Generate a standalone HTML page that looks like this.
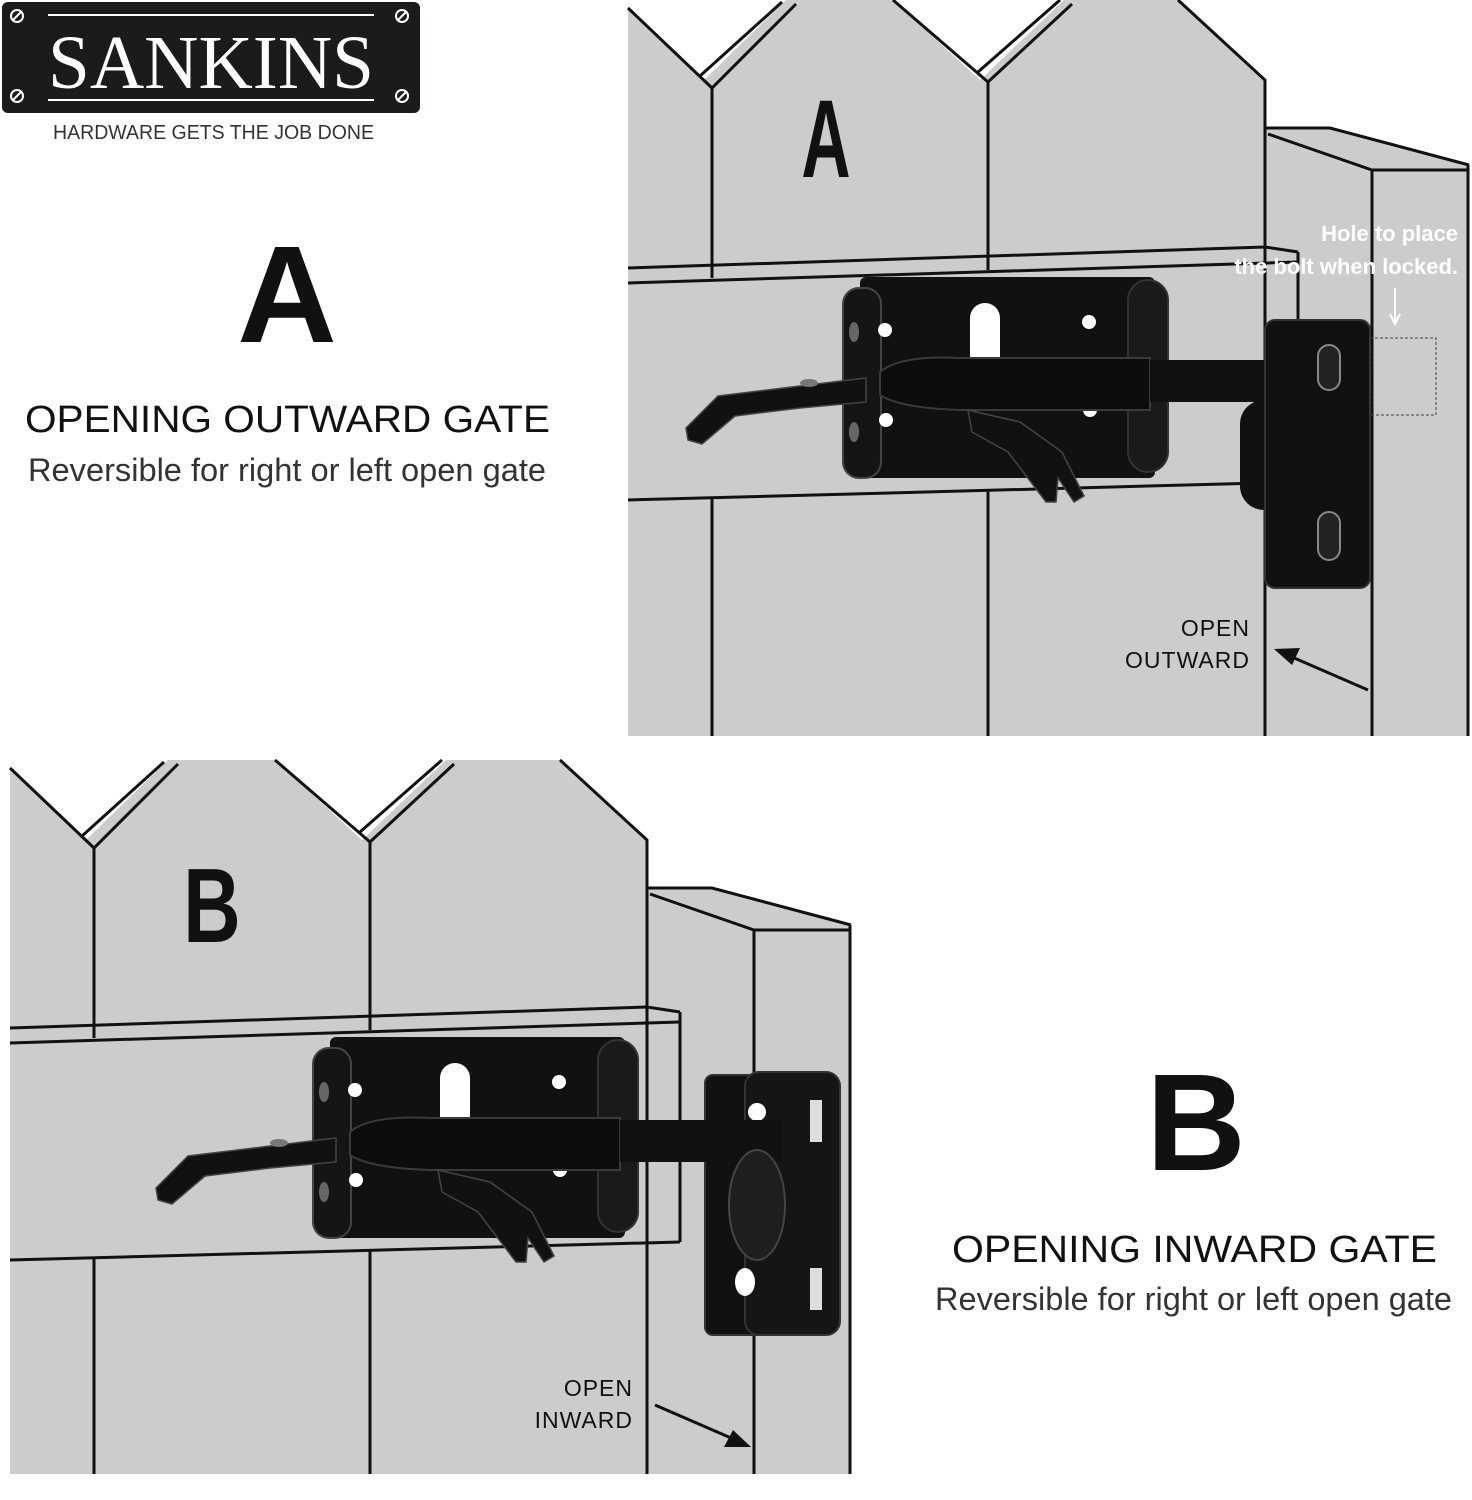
<!DOCTYPE html>
<html><head><meta charset="utf-8"><style>html,body{margin:0;padding:0;background:#fff}svg{display:block}</style></head>
<body>
<svg width="1472" height="1500" viewBox="0 0 1472 1500" xmlns="http://www.w3.org/2000/svg" font-family="'Liberation Sans', sans-serif">
<defs>
<g id="fence">
  <rect x="628" y="0" width="841" height="736" fill="#cccccc"/>
  <polygon points="628,0 628,8 704,80 786,0" fill="#fff"/>
  <polygon points="893,0 980,80 1064,0" fill="#fff"/>
  <polygon points="1178,0 1265,80 1265,128 1330,128 1469,165 1469,0" fill="#fff"/>
  <g stroke="#111" stroke-width="3" fill="none">
    <polyline points="628,8 712,88 796,4"/>
    <line x1="700" y1="76" x2="782" y2="2"/>
    <polyline points="893,0 988,82 1072,4"/>
    <line x1="978" y1="72" x2="1060" y2="0"/>
    <polyline points="1178,0 1265,80 1265,736"/>
    <polyline points="1265,128 1330,128 1469,165"/>
    <polyline points="1268,134 1372,170 1469,170"/>
    <line x1="1372" y1="170" x2="1372" y2="736"/>
    <line x1="1468" y1="165" x2="1468" y2="736"/>
    <line x1="712" y1="88" x2="712" y2="278"/>
    <line x1="988" y1="82" x2="988" y2="270"/>
    <polyline points="628,268 1265,247 1298,252"/>
    <line x1="628" y1="283" x2="1298" y2="262"/>
    <line x1="1298" y1="252" x2="1298" y2="482"/>
    <line x1="628" y1="500" x2="1298" y2="482"/>
    <line x1="712" y1="498" x2="712" y2="736"/>
    <line x1="988" y1="490" x2="988" y2="736"/>
  </g>
</g>
<g id="latch">
  <rect x="860" y="277" width="295" height="201" rx="6" fill="#111"/>
  <rect x="1128" y="280" width="40" height="192" rx="20" fill="#1a1a1a" stroke="#333" stroke-width="2"/>
  <rect x="843" y="288" width="38" height="190" rx="16" fill="#151515" stroke="#444" stroke-width="2"/>
  <ellipse cx="854" cy="332" rx="5" ry="10" fill="#666"/>
  <ellipse cx="854" cy="432" rx="5" ry="10" fill="#666"/>
  <path d="M970,358 L970,318 A15,15 0 0 1 1000,318 L1000,358 Z" fill="#fff"/>
  <circle cx="885" cy="330" r="7" fill="#fff"/>
  <circle cx="1089" cy="322" r="7" fill="#fff"/>
  <circle cx="886" cy="420" r="7" fill="#fff"/>
  <circle cx="1090" cy="410" r="7" fill="#fff"/>
  <path d="M880,372 Q900,355 960,358 L1150,358 L1150,410 L960,410 Q900,408 880,395 Z" fill="#0c0c0c" stroke="#3a3a3a" stroke-width="2"/>
  <rect x="1150" y="360" width="122" height="42" fill="#111"/>
  <path d="M686,428 L718,396 L800,386 L866,378 L866,402 L800,408 L735,416 L702,444 L688,440 Z" fill="#111" stroke="#444" stroke-width="1.5"/>
  <ellipse cx="809" cy="383" rx="9" ry="4" fill="#777"/>
  <path d="M968,410 L1020,422 L1062,452 L1084,496 L1074,502 L1058,478 L1056,502 L1046,502 L1008,452 L972,432 Z" fill="#111" stroke="#444" stroke-width="1.5"/>
</g>
</defs>

<!-- Logo -->
<rect x="2" y="2" width="418" height="111" rx="6" fill="#1c1a1a"/>
<line x1="48" y1="15" x2="374" y2="15" stroke="#fff" stroke-width="2"/>
<line x1="48" y1="100" x2="374" y2="100" stroke="#fff" stroke-width="2"/>
<g stroke="#fff" stroke-width="2" fill="none">
  <circle cx="17" cy="16" r="6"/><line x1="13" y1="20" x2="21" y2="12"/>
  <circle cx="402" cy="16" r="6"/><line x1="398" y1="20" x2="406" y2="12"/>
  <circle cx="17" cy="96" r="6"/><line x1="13" y1="100" x2="21" y2="92"/>
  <circle cx="402" cy="96" r="6"/><line x1="398" y1="100" x2="406" y2="92"/>
</g>
<text x="48" y="88" font-family="'Liberation Serif', serif" font-size="76" fill="#fff" textLength="326" lengthAdjust="spacingAndGlyphs">SANKINS</text>
<text x="53" y="139" font-size="20" fill="#333" textLength="321" lengthAdjust="spacingAndGlyphs">HARDWARE GETS THE JOB DONE</text>

<!-- Left A text -->
<text x="287" y="342" font-size="138" font-weight="bold" fill="#111" text-anchor="middle">A</text>
<text x="25" y="432" font-size="38" fill="#111" textLength="525" lengthAdjust="spacingAndGlyphs">OPENING OUTWARD GATE</text>
<text x="28" y="481" font-size="32" fill="#333" textLength="518" lengthAdjust="spacingAndGlyphs">Reversible for right or left open gate</text>

<!-- Panel A -->
<use href="#fence"/>
<text x="826" y="177" font-size="110" font-weight="bold" fill="#111" text-anchor="middle" transform="translate(826 0) scale(0.62 1) translate(-826 0)">A</text>
<use href="#latch"/>
<rect x="1240" y="400" width="50" height="110" rx="24" fill="#111"/>
<rect x="1265" y="320" width="105" height="268" rx="10" fill="#111" stroke="#333" stroke-width="2"/>
<rect x="1318" y="345" width="22" height="45" rx="11" fill="#222" stroke="#888" stroke-width="2"/>
<rect x="1318" y="512" width="22" height="48" rx="11" fill="#222" stroke="#888" stroke-width="2"/>
<rect x="1370" y="338" width="66" height="77" fill="none" stroke="#444" stroke-width="1" stroke-dasharray="3,2"/>
<text x="1458" y="241" font-size="22" font-weight="bold" fill="#fff" text-anchor="end">Hole to place</text>
<text x="1458" y="274" font-size="22" font-weight="bold" fill="#fff" text-anchor="end">the bolt when locked.</text>
<line x1="1395" y1="288" x2="1395" y2="322" stroke="#fff" stroke-width="2"/>
<polyline points="1390,314 1395,324 1400,314" fill="none" stroke="#fff" stroke-width="2"/>
<text x="1250" y="636" font-size="23" fill="#111" text-anchor="end" letter-spacing="1">OPEN</text>
<text x="1250" y="668" font-size="23" fill="#111" text-anchor="end" letter-spacing="1">OUTWARD</text>
<line x1="1368" y1="690" x2="1285" y2="654" stroke="#111" stroke-width="3"/>
<polygon points="1274,649 1300,648 1292,665" fill="#111"/>

<!-- Panel B -->
<polygon points="0,740 1472,740 1472,1500 0,1500" fill="#fff"/>
<g transform="translate(-618 760)"><use href="#fence"/></g>
<text x="212" y="942" font-size="106" font-weight="bold" fill="#111" text-anchor="middle" transform="translate(212 0) scale(0.75 1) translate(-212 0)">B</text>
<rect x="705" y="1075" width="60" height="260" rx="8" fill="#111" stroke="#333" stroke-width="2"/>
<rect x="745" y="1072" width="95" height="263" rx="14" fill="#151515" stroke="#333" stroke-width="2"/>
<circle cx="757" cy="1112" r="9" fill="#fff"/>
<ellipse cx="745" cy="1282" rx="10" ry="14" fill="#fff"/>
<rect x="810" y="1100" width="12" height="42" fill="#ddd"/>
<rect x="810" y="1268" width="12" height="42" fill="#ddd"/>
<g transform="translate(-530 760)"><use href="#latch"/></g>
<rect x="740" y="1120" width="42" height="42" fill="#111"/>
<ellipse cx="757" cy="1205" rx="28" ry="55" fill="#1e1e1e" stroke="#444" stroke-width="2"/>
<text x="633" y="1396" font-size="23" fill="#111" text-anchor="end" letter-spacing="1">OPEN</text>
<text x="633" y="1428" font-size="23" fill="#111" text-anchor="end" letter-spacing="1">INWARD</text>
<line x1="655" y1="1405" x2="738" y2="1441" stroke="#111" stroke-width="3"/>
<polygon points="751,1447 724,1447 733,1430" fill="#111"/>
<rect x="0" y="1474" width="900" height="26" fill="#fff"/>

<!-- Right B text -->
<text x="1196" y="1170" font-size="138" font-weight="bold" fill="#111" text-anchor="middle">B</text>
<text x="952" y="1262" font-size="38" fill="#111" textLength="485" lengthAdjust="spacingAndGlyphs">OPENING INWARD GATE</text>
<text x="935" y="1310" font-size="32" fill="#333" textLength="517" lengthAdjust="spacingAndGlyphs">Reversible for right or left open gate</text>
</svg>
</body></html>
